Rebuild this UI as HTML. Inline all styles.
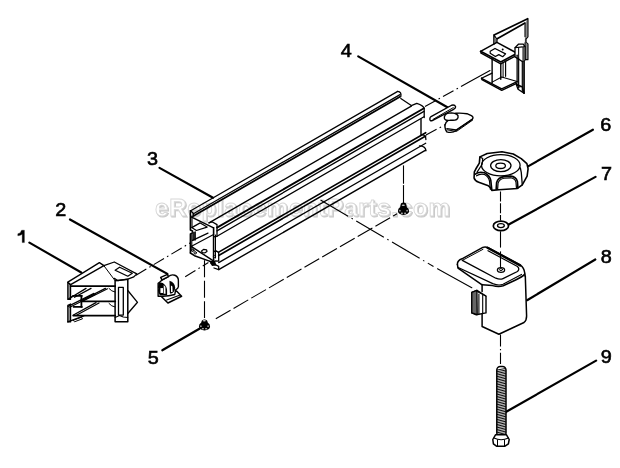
<!DOCTYPE html>
<html><head><meta charset="utf-8"><style>
html,body{margin:0;padding:0;background:#fff;width:620px;height:468px;overflow:hidden}
svg{display:block}
text{font-family:"Liberation Sans",sans-serif;font-weight:normal;font-size:18px;fill:#000;stroke:#000;stroke-width:0.6px}
.lab{will-change:transform}
.wm{font-family:"Liberation Sans",sans-serif;font-weight:bold;font-size:24px;letter-spacing:0.8px;fill:#ffffff;stroke:#d8d8d8;stroke-width:0.9px}
.wms{fill:#c6c6c6;stroke:#cacaca;stroke-width:1.1px}
</style></head><body>
<svg width="620" height="468" viewBox="0 0 620 468">
<rect width="620" height="468" fill="#fff"/>
<g class="lab"><text class="wm wms" x="156" y="217.2">eReplacementParts.com</text><text class="wm" x="155" y="216.2">eReplacementParts.com</text></g>
<g stroke="#000" fill="none" stroke-linecap="round" stroke-linejoin="round">
<line x1="29.40" y1="242.60" x2="81.25" y2="272.50" stroke-width="2.2" />
<line x1="70.00" y1="219.50" x2="167.40" y2="273.90" stroke-width="2.2" />
<line x1="159.50" y1="167.90" x2="213.00" y2="197.70" stroke-width="2.2" />
<line x1="358.20" y1="56.40" x2="450.00" y2="108.75" stroke-width="2.2" />
<line x1="162.30" y1="350.30" x2="199.40" y2="328.70" stroke-width="2.2" />
<line x1="592.90" y1="129.70" x2="527.60" y2="166.60" stroke-width="2.2" />
<line x1="595.50" y1="176.90" x2="506.00" y2="226.00" stroke-width="2.2" />
<line x1="595.30" y1="259.50" x2="527.10" y2="300.20" stroke-width="2.2" />
<line x1="596.10" y1="360.60" x2="505.80" y2="412.00" stroke-width="2.2" />
<line x1="136.00" y1="275.20" x2="190.00" y2="243.00" stroke-width="1.1" stroke-dasharray="12,3.5,1.6,3.5" stroke-linecap="butt"/>
<line x1="425.00" y1="106.50" x2="470.00" y2="81.50" stroke-width="1.1" stroke-dasharray="12,3.5,1.6,3.5" stroke-linecap="butt"/>
<line x1="470.00" y1="81.50" x2="490.00" y2="70.50" stroke-width="1.1" />
<line x1="185.20" y1="276.70" x2="208.40" y2="262.50" stroke-width="1.1" stroke-dasharray="12,3.5,1.6,3.5" stroke-linecap="butt"/>
<line x1="426.00" y1="135.00" x2="452.00" y2="121.00" stroke-width="1.1" stroke-dasharray="12,3.5,1.6,3.5" stroke-linecap="butt"/>
<line x1="215.80" y1="318.70" x2="397.00" y2="213.70" stroke-width="1.1" stroke-dasharray="17,3.5" stroke-linecap="butt"/>
<line x1="204.50" y1="260.20" x2="204.50" y2="318.00" stroke-width="1.1" stroke-dasharray="17,3.5" stroke-linecap="butt"/>
<line x1="403.50" y1="185.50" x2="403.50" y2="205.00" stroke-width="1.1" />
<line x1="403.50" y1="165.80" x2="403.50" y2="183.20" stroke-width="1.1" />
<line x1="320.50" y1="200.00" x2="433.50" y2="266.50" stroke-width="1.1" stroke-dasharray="32,4,1.5,4" stroke-linecap="butt"/>
<line x1="500.50" y1="191.40" x2="500.50" y2="220.40" stroke-width="1.1" stroke-dasharray="10,1.8" stroke-linecap="butt"/>
<line x1="500.50" y1="231.30" x2="500.50" y2="249.30" stroke-width="1.1" stroke-dasharray="16.3,2.4" stroke-linecap="butt"/>
<line x1="500.50" y1="251.70" x2="500.50" y2="268.00" stroke-width="1.1" />
<line x1="500.50" y1="334.50" x2="500.50" y2="364.00" stroke-width="1.1" stroke-dasharray="12,2.5,1.2,2.5" stroke-linecap="butt"/>
<line x1="190.70" y1="210.80" x2="397.70" y2="91.36" stroke-width="1.3" />
<line x1="193.00" y1="214.07" x2="400.00" y2="94.63" stroke-width="1.2" />
<line x1="193.00" y1="216.27" x2="400.00" y2="96.83" stroke-width="1.8" />
<line x1="209.00" y1="222.84" x2="411.30" y2="106.11" stroke-width="1.3" />
<line x1="217.00" y1="227.62" x2="424.00" y2="108.19" stroke-width="1.8" />
<line x1="217.00" y1="230.82" x2="424.00" y2="111.39" stroke-width="1.3" />
<line x1="217.00" y1="236.22" x2="424.00" y2="116.79" stroke-width="1.3" />
<line x1="218.70" y1="252.14" x2="425.70" y2="132.71" stroke-width="1.6" />
<line x1="218.70" y1="255.44" x2="425.70" y2="136.00" stroke-width="1.6" />
<line x1="218.70" y1="262.64" x2="425.70" y2="143.21" stroke-width="1.3" />
<line x1="218.70" y1="269.64" x2="425.70" y2="150.21" stroke-width="1.4" />
<path d="M190.40,210.70 L190.40,230.10 L192.50,231.00 L192.50,233.00 L190.40,234.00 L190.40,253.00" stroke-width="1.6" fill="none" />
<path d="M192.00,216.00 L192.00,227.50" stroke-width="1.1" fill="none" />
<path d="M191.80,234.50 L191.80,251.00" stroke-width="1.1" fill="none" />
<path d="M190.40,210.70 L193.30,213.20 L193.30,215.60" stroke-width="1.3" fill="none" />
<path d="M191.10,216.90 L213.60,227.80" stroke-width="1.4" fill="none" />
<path d="M191.70,227.60 L200.20,222.90 L207.10,227.10 L196.40,230.50 L191.70,227.60" stroke-width="1.2" fill="none" />
<path d="M192.3,232.3 L196,231.3 L196,240.4 L192.3,240.4 Z" fill="#222" stroke="none"/>
<path d="M192.50,240.40 L208.00,233.10" stroke-width="1.2" fill="none" />
<path d="M191.50,246.30 L213.60,234.50" stroke-width="1.2" fill="none" />
<path d="M191.50,246.70 L213.40,260.80" stroke-width="1.4" fill="none" />
<path d="M190.40,253.00 L194.50,255.70 L210.80,261.60 L213.60,262.20" stroke-width="1.5" fill="none" />
<path d="M213.60,227.80 L213.60,262.50" stroke-width="1.6" fill="none" />
<path d="M215.50,235.00 L215.50,258.00" stroke-width="1.0" fill="none" />
<path d="M209.00,222.80 L212.00,221.80 L217.00,224.60 L217.00,236.30 L213.60,236.80" stroke-width="1.3" fill="none" />
<path d="M213.60,251.50 L216.50,251.00 L218.70,252.60 L218.70,261.10 L215.00,261.00" stroke-width="1.3" fill="none" />
<path d="M211.00,263.50 L215.00,264.50 L218.70,266.40 L218.70,269.70 L214.00,268.00" stroke-width="1.3" fill="none" />
<circle cx="192.8" cy="250.3" r="1.2" stroke-width="1"/>
<circle cx="195.2" cy="252.8" r="1.2" stroke-width="1"/>
<path d="M209,260.8 L215,261 L216.5,265.5 L212,266 Z" fill="#000" stroke="none"/>
<circle cx="214.5" cy="256.5" r="1.1" stroke-width="1"/>
<path d="M201.6,251 L203.5,249.4 L206.6,249.8 L207,251.5 L205,252.8 L202.2,252.5 Z" stroke-width="1.2"/>
<path d="M397.7,91.4 Q401.8,91.8 400.8,96.6" stroke-width="1.3" fill="none" />
<path d="M400.80,98.50 L411.30,105.60" stroke-width="1.2" fill="none" />
<path d="M411.3,105.6 L416.8,103.3 Q423.5,105.5 424.2,108.5 L424.2,117.5" stroke-width="1.3" fill="none" />
<path d="M421.00,119.00 L421.00,135.00" stroke-width="1.4" fill="none" />
<path d="M421.5,134.6 Q426,134.8 425.9,139.5" stroke-width="1.3" fill="none" />
<path d="M419.5,145.8 Q425.8,146 425.9,150.8" stroke-width="1.3" fill="none" />
<path d="M67.80,282.40 L70.60,284.40 L70.60,299.30 L67.80,299.30 Z" stroke-width="1.2" fill="#888" />
<path d="M67.80,305.40 L70.60,304.00 L70.60,321.90 L67.80,321.90 Z" stroke-width="1.2" fill="#888" />
<path d="M67.80,282.20 L99.40,262.70 L103.90,265.70 L70.60,284.60 Z" stroke-width="1.4" fill="#fff" />
<path d="M103.90,265.70 L114.30,262.00 L136.80,273.90 L133.80,276.90 L127.80,279.20 L118.00,280.70 L114.30,278.40" stroke-width="1.3" fill="none" />
<path d="M115.10,270.20 L119.60,267.20 L132.30,273.20 L127.80,276.20 Z" stroke-width="1.2" fill="none" />
<line x1="103.90" y1="265.70" x2="115.10" y2="280.70" stroke-width="1.0" />
<line x1="70.60" y1="286.10" x2="115.30" y2="286.10" stroke-width="1.7" />
<line x1="71.00" y1="297.50" x2="86.00" y2="288.40" stroke-width="1.3" />
<line x1="74.50" y1="297.20" x2="91.00" y2="288.40" stroke-width="1.3" />
<line x1="80.50" y1="301.00" x2="105.40" y2="288.40" stroke-width="1.3" />
<line x1="83.00" y1="301.00" x2="107.50" y2="288.80" stroke-width="1.2" />
<line x1="73.20" y1="295.80" x2="81.90" y2="295.80" stroke-width="1.8" />
<line x1="81.40" y1="295.80" x2="81.40" y2="306.90" stroke-width="1.8" />
<line x1="73.70" y1="306.90" x2="81.90" y2="306.90" stroke-width="1.8" />
<line x1="68.10" y1="306.40" x2="94.00" y2="293.40" stroke-width="1.2" />
<line x1="69.80" y1="307.20" x2="95.50" y2="294.20" stroke-width="1.1" />
<line x1="68.10" y1="299.20" x2="73.20" y2="295.80" stroke-width="1.3" />
<line x1="81.90" y1="301.30" x2="115.30" y2="301.30" stroke-width="1.7" />
<line x1="73.00" y1="315.30" x2="96.00" y2="302.60" stroke-width="1.3" />
<line x1="76.00" y1="315.50" x2="99.00" y2="303.00" stroke-width="1.2" />
<line x1="73.40" y1="315.70" x2="115.30" y2="315.70" stroke-width="1.7" />
<line x1="67.80" y1="321.90" x2="83.80" y2="315.90" stroke-width="1.4" />
<path d="M73.50,320.20 L81.50,317.20 L82.50,318.80 L75.00,321.60 Z" stroke-width="1.0" fill="none" />
<path d="M109,288.5 Q111.5,291.5 115,292" stroke-width="1.0" fill="none" />
<path d="M109,303.5 Q111.5,306.5 115,307" stroke-width="1.0" fill="none" />
<path d="M115.10,280.70 L127.80,279.20 L127.80,321.80 L115.10,321.80 Z" stroke-width="1.5" fill="none" />
<path d="M118.50,287.40 L123.30,287.40 L123.30,315.10 L118.50,315.10 Z" stroke-width="1.3" fill="none" />
<path d="M127.80,290.50 L137.50,302.30 L127.80,313.50" stroke-width="1.3" fill="none" />
<path d="M115.10,317.50 L119.50,315.50 L123.30,317.00 L127.80,317.50" stroke-width="1.1" fill="none" />
<path d="M161.11,296.21 L176.50,291.08 L181.62,296.21 L167.95,303.04 Z" stroke-width="1.5" fill="#fff" />
<path d="M166.67,300.05 L179.49,295.18" stroke-width="1.1" fill="none" />
<path d="M161.97,279.97 L168.38,276.55 Q171.37,273.98 174.79,275.26 Q178.63,276.97 178.38,280.82 L178.38,286.80 Q178.21,288.51 175.64,289.79 L174.79,294.50 Q168.80,296.21 162.82,296.21 L158.12,296.21 L158.12,283.38 Q159.83,282.10 161.97,279.97 Z" stroke-width="1.4" fill="#fff"/>
<path d="M158.55,283.38 Q160.26,281.68 162.82,282.96 Q166.67,285.52 167.09,290.22 L167.09,295.35 L159.83,295.35 Q158.55,293.64 157.86,290.22 Q159.40,288.94 157.86,287.23 Z" fill="#000" stroke="none"/>
<path d="M160.43,288.09 L162.99,288.09 L162.99,292.96 L160.43,292.96 Z" fill="#fff" stroke="none"/>
<path d="M163.68,285.09 L165.38,286.80 L165.56,293.64 L163.68,293.64 Z" fill="#fff" stroke="none"/>
<path d="M169.49,280.82 Q174.79,282.53 175.21,287.66 Q174.79,292.79 170.51,293.64 L169.83,292.79 Z" fill="#000" stroke="none"/>
<path d="M170.94,285.52 L172.39,286.38 L172.65,291.93 L171.03,292.10 Z" fill="#fff" stroke="none"/>
<path d="M160.68,277.40 L167.52,274.41 L168.38,276.55 L161.97,279.97 Z" stroke-width="1.5" fill="#fff" />
<path d="M431.05,116.53 L451.61,105.24 Q454.84,104.44 455.65,106.85 Q455.65,108.47 453.63,109.27 L432.26,120.56 Q429.84,121.37 429.84,118.95 Q429.84,117.34 431.05,116.53 Z" stroke-width="1.4" fill="#fff"/>
<path d="M433.06,119.35 L453.23,107.66" stroke-width="1.0" fill="none" />
<path d="M445.97,122.58 L455.65,113.31 Q461.29,112.90 466.94,113.71 L471.37,115.73 Q474.19,117.34 472.18,119.35 L456.45,130.24 Q452.42,133.47 446.77,131.85 Q443.55,126.61 445.97,122.58 Z" stroke-width="1.4" fill="#fff"/>
<path d="M446.77,128.63 L456.05,129.84 L472.58,118.95" stroke-width="1.1" fill="none" />
<path d="M447.18,129.84 L456.45,131.45 L472.58,120.16" stroke-width="1.0" fill="none" />
<path d="M444.35,116.94 Q445.16,112.90 451.61,112.90 Q458.87,113.71 458.06,117.34 Q457.26,120.97 450.81,120.16 Q443.55,121.37 444.35,116.94 Z" stroke-width="1.4" fill="#fff"/>
<path d="M494.04,43.65 L494.04,35.00 L527.69,18.65 L527.69,36.73 L525.77,38.85 L525.77,42.31 L527.69,44.04 L527.69,59.42 L524.04,59.42 L524.04,93.27" stroke-width="1.7" fill="none" />
<path d="M496.73,41.73 L496.73,39.04 L525.00,23.08" stroke-width="1.7" fill="none" />
<path d="M494.04,35.00 L496.73,39.04" stroke-width="1.2" fill="none" />
<path d="M494.23,36.92 L496.54,39.23 L496.54,43.08 L494.23,43.08 Z" fill="#777" stroke="none"/>
<path d="M525.19,23.08 L527.50,19.62 L527.50,36.73 L525.58,38.85 L525.58,42.31 L527.50,44.04 L527.50,59.04 L525.19,59.04 Z" fill="#8a8a8a" stroke="none"/>
<path d="M525.00,23.08 L525.00,36.73" stroke-width="1.1" fill="none" />
<path d="M525.00,42.69 L525.00,59.42" stroke-width="1.1" fill="none" />
<path d="M480.58,51.35 L496.92,42.31 L517.12,53.27" stroke-width="1.5" fill="none" />
<path d="M480.58,51.35 L500.77,61.92 L517.12,53.27" stroke-width="1.7" fill="none" />
<path d="M481.15,53.08 L500.77,63.85 L517.12,55.19" stroke-width="1.4" fill="none" />
<path d="M480.58,51.35 L481.15,53.08" stroke-width="1.3" fill="none" />
<path d="M490.19,51.35 L495.00,48.46 L505.58,53.85 L502.69,56.73 L498.85,54.62 L495.38,56.54 L490.19,53.27 Z" stroke-width="1.2" fill="none" />
<circle cx="502.69" cy="49.42" r="1.0" fill="#000" stroke="none"/>
<path d="M515.00,47.69 L518.65,44.04 L523.27,44.04 L525.00,46.54 L525.00,60.00 L522.31,61.54 L515.00,56.92 L515.00,47.69 Z" stroke-width="1.3" fill="#fff" />
<path d="M522.31,46.92 L525.00,46.54 L525.00,60.00 L522.31,61.54 Z" fill="#555" stroke="none"/>
<path d="M515.00,47.69 L522.31,46.92 L525.00,46.54" stroke-width="1.1" fill="none" />
<path d="M518.65,47.69 L518.65,58.08" stroke-width="1.0" fill="none" />
<path d="M492.12,58.08 L492.12,83.08" stroke-width="1.4" fill="none" />
<path d="M500.77,63.46 L500.77,79.23" stroke-width="1.4" fill="none" />
<path d="M505.58,60.96 L505.58,76.35" stroke-width="1.2" fill="none" />
<path d="M503.08,62.31 L503.08,77.69" stroke-width="1.0" fill="none" />
<path d="M517.12,55.19 L517.12,82.12" stroke-width="1.3" fill="none" />
<path d="M518.65,58.08 L518.65,88.08" stroke-width="1.2" fill="none" />
<path d="M522.31,61.54 L522.31,91.35" stroke-width="1.2" fill="none" />
<path d="M481.54,78.27 L492.12,73.08" stroke-width="1.3" fill="none" />
<path d="M481.54,78.27 L501.73,88.85 L517.12,81.54" stroke-width="1.4" fill="none" />
<path d="M481.54,78.27 L481.92,79.62 L501.73,90.38 L517.12,83.08" stroke-width="1.4" fill="none" />
<path d="M492.12,82.12 L501.73,76.92 L517.12,81.54" stroke-width="1.1" fill="none" />
<path d="M516.15,84.04 L522.31,86.92 L524.04,93.27 L518.08,89.23 L516.15,84.04" stroke-width="1.4" fill="none" />
<path d="M519.04,86.92 L521.92,86.54" stroke-width="1.0" fill="none" />
<path d="M479.89,156.89 L487.25,153.49 L501.98,151.80 L513.30,154.06 L521.23,158.59 L526.89,163.69 L528.08,168.87 L527.12,176.13 L522.27,184.85 L517.43,188.43 L499.04,189.78 L491.78,190.36 Q490.81,187.27 488.39,185.81 L478.71,182.23 Q474.84,180.97 474.07,178.07 L474.36,171.78 L475.93,168.78 L479.33,163.12 Z" stroke-width="1.6" fill="#fff"/>
<ellipse cx="500.8" cy="165.2" rx="19.3" ry="10.6" stroke-width="1.3" fill="none"/>
<ellipse cx="500.8" cy="165.6" rx="10.2" ry="6.0" stroke-width="1.3" fill="none"/>
<ellipse cx="500.6" cy="165.8" rx="4.8" ry="2.7" stroke-width="1.3" fill="none"/>
<path d="M475.32,174.20 Q478.71,171.29 484.52,172.74 Q489.85,175.65 490.81,180.49 L491.78,189.69" stroke-width="1.6" fill="none" />
<path d="M476.58,175.84 Q479.68,173.52 484.52,174.49 Q488.88,176.81 489.55,181.46 L490.33,189.20" stroke-width="1.2" fill="none" />
<path d="M496.14,189.39 L496.62,182.42 Q498.07,177.58 503.88,176.62 L510.66,176.13 Q515.98,176.62 517.43,181.46 L517.92,188.04" stroke-width="1.6" fill="none" />
<path d="M497.59,189.39 L498.07,182.91 Q499.53,179.13 503.88,178.26 L510.66,177.78 Q514.72,178.36 515.98,181.94 L516.47,188.23" stroke-width="1.2" fill="none" />
<path d="M520.34,167.90 L521.31,172.74 L522.27,184.85" stroke-width="1.3" fill="none" />
<path d="M479.89,156.89 L482.72,158.59 L482.16,164.25 L477.06,172.18" stroke-width="1.2" fill="none" />
<ellipse cx="500.9" cy="225.9" rx="7.6" ry="4.8" stroke-width="1.7" fill="#fff"/>
<ellipse cx="500.9" cy="225.6" rx="3.4" ry="2.0" stroke-width="1.3" fill="none"/>
<path d="M482.1,284.5 L482.1,291.5 M482.1,313.5 L482.1,326.5 L498.9,334.2 L524,322.5 Q526.6,320.5 526.6,316 L525.3,276" stroke-width="1.5" fill="none" />
<path d="M457.4,264.4 Q457.2,260.5 462,258.8 L482.8,247.4 Q485.2,246.3 488,247.6 L520.3,265.2 Q524.5,268 524.8,274 L525,276" stroke-width="1.5" fill="none" />
<path d="M457.4,264.4 L458,268.2 L482.1,284.8 L492.5,285.6 Q498.5,287.2 503.2,285.8 L515.6,280 Q523,276.5 524.8,274" stroke-width="1.5" fill="none" />
<path d="M458.2,267.5 L492.8,283.6 Q498.5,286 503,284.3 L521.5,274.5" stroke-width="1.2" fill="none" />
<path d="M462.3,260.4 L495.8,278.2 Q500,280 503,278.6 L517.5,271.5 Q520,269 517.5,266.5 L488,250.8" stroke-width="1.3" fill="none" />
<line x1="462.30" y1="260.40" x2="483.00" y2="249.30" stroke-width="1.0" />
<line x1="487.50" y1="247.80" x2="520.20" y2="265.40" stroke-width="2.4" />
<ellipse cx="501" cy="270" rx="3.6" ry="2.3" stroke-width="1.3" fill="#fff"/>
<ellipse cx="501" cy="269.6" rx="1.6" ry="1.0" stroke-width="0.9" fill="none"/>
<path d="M471.8,292.3 L476.9,290.3 L486,296.1 L486,312.9 L476.3,314.8 L471.8,312.9 Z" stroke-width="1.4" fill="#fff" />
<path d="M471.8,292.3 L476.9,290.3 L477.2,314.6 L471.8,312.9 Z" fill="#666" stroke="none"/>
<path d="M471.8,292.3 L476.9,290.3 L477.2,314.6 L471.8,312.9 Z" stroke-width="1.3" fill="none" />
<line x1="478.90" y1="294.00" x2="478.90" y2="313.50" stroke-width="1.1" />
<line x1="482.70" y1="295.00" x2="482.70" y2="313.50" stroke-width="1.1" />
<line x1="476.90" y1="291.50" x2="486.00" y2="296.10" stroke-width="1.0" />
<line x1="437.50" y1="268.80" x2="471.80" y2="287.70" stroke-width="1.1" />
<rect x="496.8" y="366.5" width="9.2" height="70" rx="3.5" fill="#fff" stroke-width="1.5"/>
<line x1="497.30" y1="370.00" x2="505.50" y2="368.50" stroke-width="0.95" />
<line x1="497.30" y1="371.65" x2="505.50" y2="370.15" stroke-width="0.95" />
<line x1="497.30" y1="373.30" x2="505.50" y2="371.80" stroke-width="0.95" />
<line x1="497.30" y1="374.95" x2="505.50" y2="373.45" stroke-width="0.95" />
<line x1="497.30" y1="376.60" x2="505.50" y2="375.10" stroke-width="0.95" />
<line x1="497.30" y1="378.25" x2="505.50" y2="376.75" stroke-width="0.95" />
<line x1="497.30" y1="379.90" x2="505.50" y2="378.40" stroke-width="0.95" />
<line x1="497.30" y1="381.55" x2="505.50" y2="380.05" stroke-width="0.95" />
<line x1="497.30" y1="383.20" x2="505.50" y2="381.70" stroke-width="0.95" />
<line x1="497.30" y1="384.85" x2="505.50" y2="383.35" stroke-width="0.95" />
<line x1="497.30" y1="386.50" x2="505.50" y2="385.00" stroke-width="0.95" />
<line x1="497.30" y1="388.15" x2="505.50" y2="386.65" stroke-width="0.95" />
<line x1="497.30" y1="389.80" x2="505.50" y2="388.30" stroke-width="0.95" />
<line x1="497.30" y1="391.45" x2="505.50" y2="389.95" stroke-width="0.95" />
<line x1="497.30" y1="393.10" x2="505.50" y2="391.60" stroke-width="0.95" />
<line x1="497.30" y1="394.75" x2="505.50" y2="393.25" stroke-width="0.95" />
<line x1="497.30" y1="396.40" x2="505.50" y2="394.90" stroke-width="0.95" />
<line x1="497.30" y1="398.05" x2="505.50" y2="396.55" stroke-width="0.95" />
<line x1="497.30" y1="399.70" x2="505.50" y2="398.20" stroke-width="0.95" />
<line x1="497.30" y1="401.35" x2="505.50" y2="399.85" stroke-width="0.95" />
<line x1="497.30" y1="403.00" x2="505.50" y2="401.50" stroke-width="0.95" />
<line x1="497.30" y1="404.65" x2="505.50" y2="403.15" stroke-width="0.95" />
<line x1="497.30" y1="406.30" x2="505.50" y2="404.80" stroke-width="0.95" />
<line x1="497.30" y1="407.95" x2="505.50" y2="406.45" stroke-width="0.95" />
<line x1="497.30" y1="409.60" x2="505.50" y2="408.10" stroke-width="0.95" />
<line x1="497.30" y1="411.25" x2="505.50" y2="409.75" stroke-width="0.95" />
<line x1="497.30" y1="412.90" x2="505.50" y2="411.40" stroke-width="0.95" />
<line x1="497.30" y1="414.55" x2="505.50" y2="413.05" stroke-width="0.95" />
<line x1="497.30" y1="416.20" x2="505.50" y2="414.70" stroke-width="0.95" />
<line x1="497.30" y1="417.85" x2="505.50" y2="416.35" stroke-width="0.95" />
<line x1="497.30" y1="419.50" x2="505.50" y2="418.00" stroke-width="0.95" />
<line x1="497.30" y1="421.15" x2="505.50" y2="419.65" stroke-width="0.95" />
<line x1="497.30" y1="422.80" x2="505.50" y2="421.30" stroke-width="0.95" />
<line x1="497.30" y1="424.45" x2="505.50" y2="422.95" stroke-width="0.95" />
<line x1="497.30" y1="426.10" x2="505.50" y2="424.60" stroke-width="0.95" />
<line x1="497.30" y1="427.75" x2="505.50" y2="426.25" stroke-width="0.95" />
<line x1="497.30" y1="429.40" x2="505.50" y2="427.90" stroke-width="0.95" />
<line x1="497.30" y1="431.05" x2="505.50" y2="429.55" stroke-width="0.95" />
<line x1="497.30" y1="432.70" x2="505.50" y2="431.20" stroke-width="0.95" />
<line x1="497.30" y1="434.35" x2="505.50" y2="432.85" stroke-width="0.95" />
<path d="M492.8,439.5 L495.5,434.8 L506.5,434.8 L509.2,439.5 L508.4,443.8 L505,446.2 L496.5,446.2 L493.4,443.8 Z" stroke-width="1.5" fill="#fff" />
<path d="M494,438 Q501,441.5 508.5,438" stroke-width="1.1" fill="none" />
<line x1="497.50" y1="440.00" x2="497.50" y2="445.80" stroke-width="1.0" />
<line x1="504.50" y1="440.00" x2="504.50" y2="445.80" stroke-width="1.0" />
<path d="M201.90,320.40 Q204.50,318.40 207.10,320.40 L207.90,322.80 Q210.10,323.80 210.10,326.80 Q209.70,330.20 204.50,330.40 Q199.30,330.20 198.90,326.80 Q198.90,323.80 201.10,322.80 Z" fill="#000" stroke="none"/>
<ellipse cx="204.30" cy="320.70" rx="1.6" ry="0.8" fill="#fff" stroke="none" opacity="0.8"/>
<ellipse cx="200.90" cy="326.20" rx="0.9" ry="0.9" fill="#fff" stroke="none" opacity="0.6"/>
<ellipse cx="208.10" cy="326.20" rx="0.9" ry="0.9" fill="#fff" stroke="none" opacity="0.6"/>
<ellipse cx="202.90" cy="328.80" rx="1.1" ry="0.7" fill="#fff" stroke="none" opacity="0.7"/>
<ellipse cx="206.10" cy="328.80" rx="1.1" ry="0.7" fill="#fff" stroke="none" opacity="0.7"/>
<path d="M400.90,203.50 Q403.50,201.50 406.10,203.50 L406.90,207.30 Q409.10,208.30 409.10,211.30 Q408.70,214.70 403.50,214.90 Q398.30,214.70 397.90,211.30 Q397.90,208.30 400.10,207.30 Z" fill="#000" stroke="none"/>
<ellipse cx="403.30" cy="205.20" rx="1.6" ry="0.8" fill="#fff" stroke="none" opacity="0.8"/>
<ellipse cx="399.90" cy="210.70" rx="0.9" ry="0.9" fill="#fff" stroke="none" opacity="0.6"/>
<ellipse cx="407.10" cy="210.70" rx="0.9" ry="0.9" fill="#fff" stroke="none" opacity="0.6"/>
<ellipse cx="401.90" cy="213.30" rx="1.1" ry="0.7" fill="#fff" stroke="none" opacity="0.7"/>
<ellipse cx="405.10" cy="213.30" rx="1.1" ry="0.7" fill="#fff" stroke="none" opacity="0.7"/>
</g>
<g class="lab"><path d="M21.6,230.2 L24.4,230.2 L24.4,242.6 L22.2,242.6 L22.2,234.2 Q20.6,235.6 17.8,235.8 L17.8,233.8 Q20.8,233.3 21.6,230.2 Z" fill="#000" stroke="#000" stroke-width="0.3"/>
<text transform="translate(55.3,215.9) scale(1.1,1.02)" x="0" y="0">2</text>
<text transform="translate(147.1,165.3) scale(1.1,1.02)" x="0" y="0">3</text>
<text transform="translate(340.8,56.7) scale(1.1,1.02)" x="0" y="0">4</text>
<text transform="translate(147.7,364.0) scale(1.1,1.02)" x="0" y="0">5</text>
<text transform="translate(600.3,130.8) scale(1.1,1.02)" x="0" y="0">6</text>
<text transform="translate(601.1,179.8) scale(1.1,1.02)" x="0" y="0">7</text>
<text transform="translate(600.8,263.1) scale(1.1,1.02)" x="0" y="0">8</text>
<text transform="translate(600.8,363.1) scale(1.1,1.02)" x="0" y="0">9</text></g>
</svg>
</body></html>
